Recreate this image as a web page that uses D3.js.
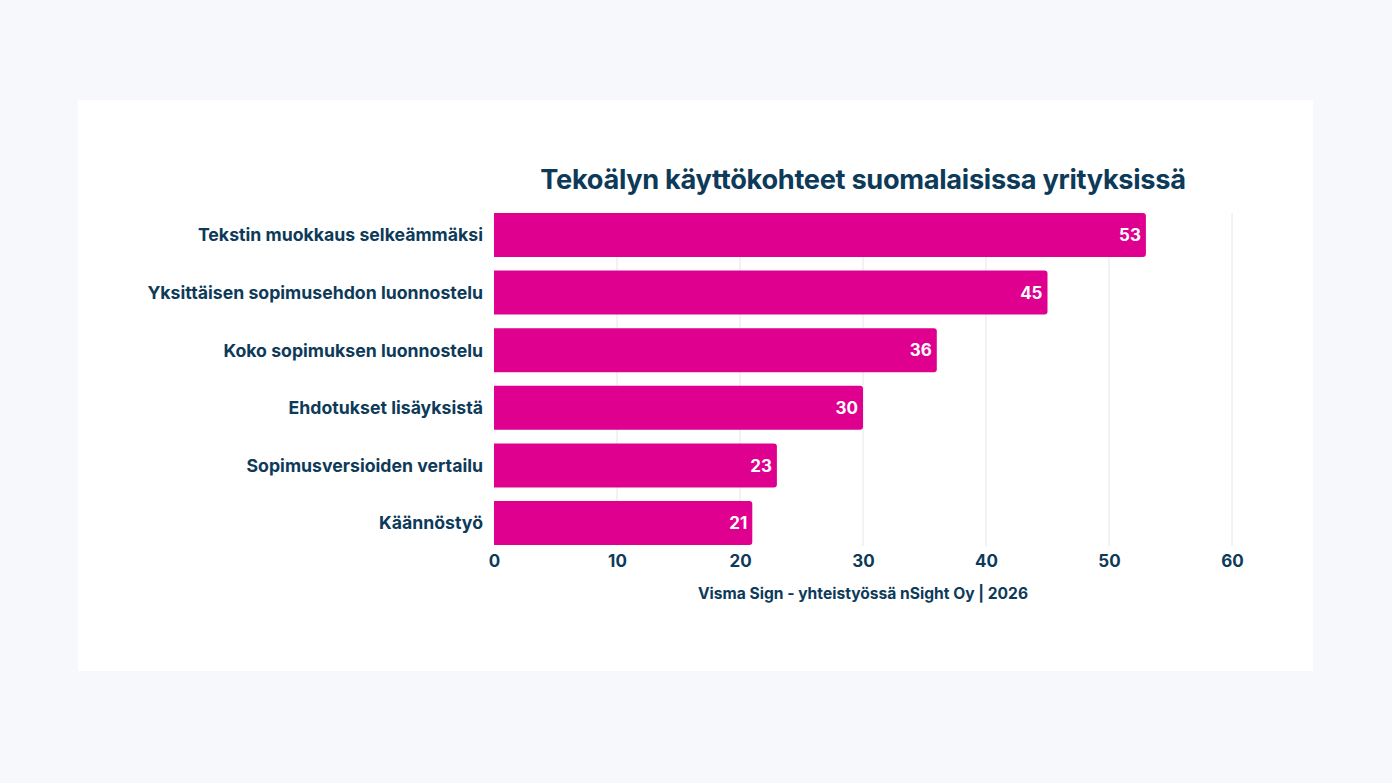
<!DOCTYPE html>
<html><head><meta charset="utf-8">
<script src="https://cdn.jsdelivr.net/npm/d3@7/dist/d3.min.js"></script>
<style>
html,body{margin:0;padding:0;background:#f7f8fc;}
svg{display:block;}
</style></head>
<body>
<svg id="chart" width="1392" height="783"></svg>
<script>
const categories = ["Tekstin muokkaus selkeämmäksi","Yksittäisen sopimusehdon luonnostelu","Koko sopimuksen luonnostelu","Ehdotukset lisäyksistä","Sopimusversioiden vertailu","Käännöstyö"];
const values = [53,45,36,30,23,21];
const tickValues = [0,10,20,30,40,50,60];
const title = "Tekoälyn käyttökohteet suomalaisissa yrityksissä";
const footer = "Visma Sign - yhteistyössä nSight Oy | 2026";

const navy = "#0e3a5a", pink = "#df0090";
const font = "Inter, 'Open Sans', sans-serif";
const svg = d3.select("#chart");
svg.append("rect").attr("x",0).attr("y",0).attr("width",1392).attr("height",783).attr("fill","#f7f8fc");
svg.append("rect").attr("x",78).attr("y",100).attr("width",1235).attr("height",571).attr("fill","#ffffff");

const x = d3.scaleLinear().domain([0,60]).range([494,1232]);
const y = d3.scaleBand().domain(categories).range([206,552]).paddingInner(0.236).paddingOuter(0.12);

// gridlines
svg.append("g").selectAll("line").data(tickValues.filter(d=>d>0)).join("line")
  .attr("x1",d=>x(d)).attr("x2",d=>x(d)).attr("y1",213).attr("y2",546)
  .attr("stroke","#e5e6ea").attr("stroke-width",1);

// bars
const bw = y.bandwidth();
svg.append("g").selectAll("path").data(values).join("path")
  .attr("d",(d,i)=>{
    const x0=x(0), x1=x(d), y0=y(categories[i]), r=3;
    return `M${x0},${y0}H${x1-r}Q${x1},${y0} ${x1},${y0+r}V${y0+bw-r}Q${x1},${y0+bw} ${x1-r},${y0+bw}H${x0}Z`;
  })
  .attr("fill",pink);

// value labels
svg.append("g").selectAll("text").data(values).join("text")
  .attr("x",d=>x(d)-5).attr("y",(d,i)=>y(categories[i])+bw/2)
  .attr("dy","0.36em").attr("text-anchor","end")
  .attr("fill","#fff").attr("font-family",font).attr("font-weight",700).attr("font-size",17)
  .text(d=>d);

// category labels
svg.append("g").selectAll("text").data(categories).join("text")
  .attr("x",483).attr("y",d=>y(d)+bw/2).attr("dy","0.36em").attr("text-anchor","end")
  .attr("fill",navy).attr("font-family",font).attr("font-weight",700).attr("font-size",17.7)
  .text(d=>d);

// x axis
const ax = svg.append("g").attr("transform","translate(0,546)")
  .call(d3.axisBottom(x).tickValues(tickValues).tickSize(0).tickPadding(9));
ax.select(".domain").remove();
ax.selectAll("text").attr("fill",navy).attr("font-family",font).attr("font-weight",700).attr("font-size",17);

// title
svg.append("text").attr("x",863).attr("y",189).attr("text-anchor","middle")
  .attr("fill",navy).attr("font-family",font).attr("font-weight",700).attr("font-size",27.2)
  .attr("letter-spacing","-0.3").text(title);

// footer
svg.append("text").attr("x",863).attr("y",599).attr("text-anchor","middle")
  .attr("fill",navy).attr("font-family",font).attr("font-weight",700).attr("font-size",15.6)
  .text(footer);
</script>
</body></html>
